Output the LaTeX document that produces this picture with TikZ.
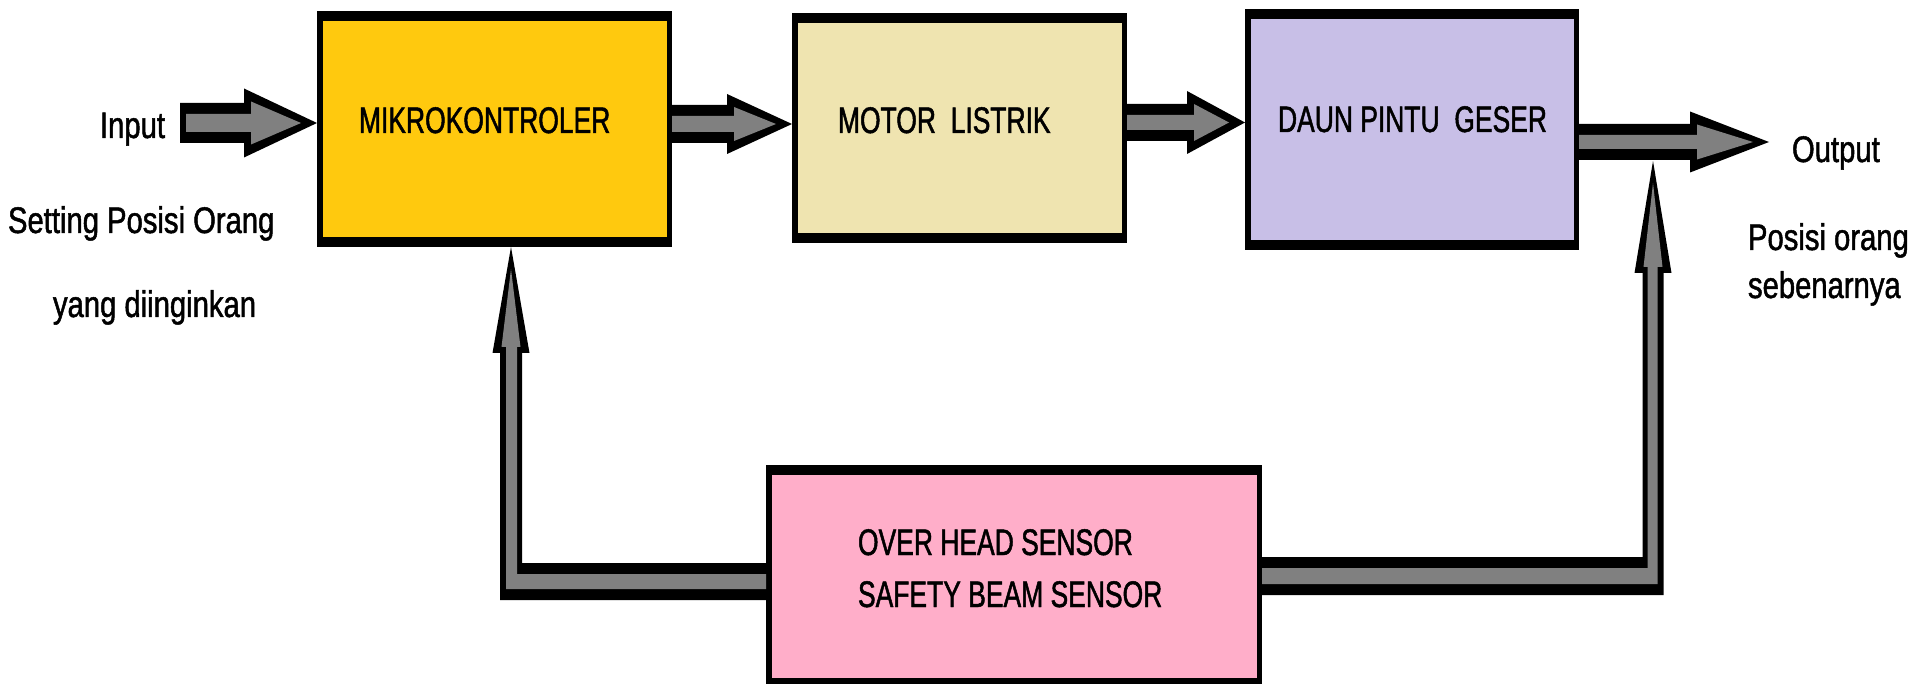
\documentclass[tikz,border=0pt]{standalone}
\usepackage{fontspec}
\setmainfont{Liberation Sans}
\newfontfamily\boxfont[FakeStretch=0.715,FakeBold=1.3]{Liberation Sans}
\newfontfamily\outfont[FakeStretch=0.79,FakeBold=1.3]{Liberation Sans}
\usetikzlibrary{calc}
\definecolor{cMK}{RGB}{255,201,14}
\definecolor{cML}{RGB}{239,228,176}
\definecolor{cDP}{RGB}{200,191,231}
\definecolor{cSS}{RGB}{255,174,201}
\definecolor{cAr}{RGB}{128,128,128}
\tikzset{
  blk/.style={rectangle, fill=black, inner sep=0pt, outer sep=0pt,
    path picture={\fill[#1] ([xshift=6pt,yshift=-10pt]path picture bounding box.north west)
      rectangle ([xshift=-5pt,yshift=10pt]path picture bounding box.south east);}},
  boxlbl/.style={inner sep=0pt, outer sep=0pt, anchor=base west,
    font=\boxfont\fontsize{37pt}{44pt}\selectfont},
  outlbl/.style={inner sep=0pt, outer sep=0pt, anchor=base west,
    font=\outfont\fontsize{37pt}{44pt}\selectfont},
  arrout/.style={fill=black},
  arrin/.style={fill=cAr}
}
% right block arrow: #1 from, #2 to, #3 y centre, #4 head length, #5 shaft half, #6 head half, #7 start inset
\newcommand\rarr[7]{%
  \fill[arrout] let \p1=#1, \p2=#2 in
    (\x1,#3+#5) -- (\x2-#4,#3+#5) -- (\x2-#4,#3+#6) -- (\x2,#3) -- (\x2-#4,#3-#6)
    -- (\x2-#4,#3-#5) -- (\x1,#3-#5) -- cycle;
  \fill[arrin] let \p1=#1, \p2=#2 in
    (\x1+#7,#3+#5-11) -- (\x2-#4+7,#3+#5-11) -- (\x2-#4+7,#3+#6-13) -- (\x2-16,#3)
    -- (\x2-#4+7,#3-#6+13) -- (\x2-#4+7,#3-#5+11) -- (\x1+#7,#3-#5+11) -- cycle;
}
% feedback elbow arrow: #1 from, #2 tip, #3 y centre of horizontal run, #4 horiz half, #5 vert half,
% #6 head length, #7 head half, #8 side sign
\newcommand\uarr[8]{%
  \fill[arrout] let \p1=#1, \p2=#2 in
    (\x1,#3+#4) -- (\x2+#8*#5,#3+#4) -- (\x2+#8*#5,\y2-#6) -- (\x2+#8*#7,\y2-#6) -- (\x2,\y2)
    -- (\x2-#8*#7,\y2-#6) -- (\x2-#8*#5,\y2-#6) -- (\x2-#8*#5,#3-#4) -- (\x1,#3-#4) -- cycle;
  \fill[arrin] let \p1=#1, \p2=#2 in
    (\x1,#3+#4-11) -- (\x2+#8*#5-#8*5,#3+#4-11) -- (\x2+#8*#5-#8*5,\y2-#6+6)
    -- (\x2+#8*#7-#8*9,\y2-#6+6) -- (\x2,\y2-22) -- (\x2-#8*#7+#8*9,\y2-#6+6)
    -- (\x2-#8*#5+#8*6,\y2-#6+6) -- (\x2-#8*#5+#8*6,#3-#4+11) -- (\x1,#3-#4+11) -- cycle;
}
\begin{document}
\begin{tikzpicture}[x=1pt,y=1pt]
\useasboundingbox (0,0) rectangle (1917,-684);
% boxes
\node[blk=cMK, minimum width=355pt, minimum height=236pt] (mk) at (494.5,-129) {};
\node[blk=cML, minimum width=335pt, minimum height=230pt] (ml) at (959.5,-128) {};
\node[blk=cDP, minimum width=334pt, minimum height=241pt] (dp) at (1412,-129.5) {};
\node[blk=cSS, minimum width=496pt, minimum height=223pt] (ss) at (1014,-576.5) {};
% box labels
\node[boxlbl] (tmk) at (359,-133) {MIKROKONTROLER};
\node[boxlbl] (tml) at (838,-133) {MOTOR~ LISTRIK};
\node[boxlbl] (tdp) at (1278,-132) {DAUN PINTU~ GESER};
\node[boxlbl] (tss1) at (858,-555) {OVER HEAD SENSOR};
\node[boxlbl] (tss2) at (858,-607) {SAFETY BEAM SENSOR};
% outside labels
\node[outlbl] (tin) at (100,-138) {Input};
\node[outlbl] (tset) at (8,-233) {Setting Posisi Orang};
\node[outlbl] (tyang) at (53,-317) {yang diinginkan};
\node[outlbl] (tout) at (1792,-162) {Output};
\node[outlbl] (tpos) at (1748,-250) {Posisi orang};
\node[outlbl] (tseb) at (1748,-298) {sebenarnya};
% free ends
\coordinate (inp) at (180,-123);
\coordinate (outp) at (1769,-142);
\coordinate (tipL) at ($(mk.south)+(16.5,0)$);
\coordinate (tipR) at (1653,-161);
% forward arrows
\rarr{(inp)}{(mk.west)}{-123}{73}{20}{34.5}{6}
\rarr{(mk.east)}{(ml.west)}{-124}{65}{19}{30}{0}
\rarr{(ml.east)}{(dp.west)}{-122.5}{58}{18.5}{31.5}{0}
\rarr{(dp.east)}{(outp)}{-142}{79}{18}{30.5}{0}
% feedback arrows
\uarr{(ss.west)}{(tipL)}{-581.5}{18.5}{11}{106}{18.5}{1}
\uarr{(ss.east)}{(tipR)}{-576}{19}{10.5}{112}{18.5}{-1}
\end{tikzpicture}
\end{document}
